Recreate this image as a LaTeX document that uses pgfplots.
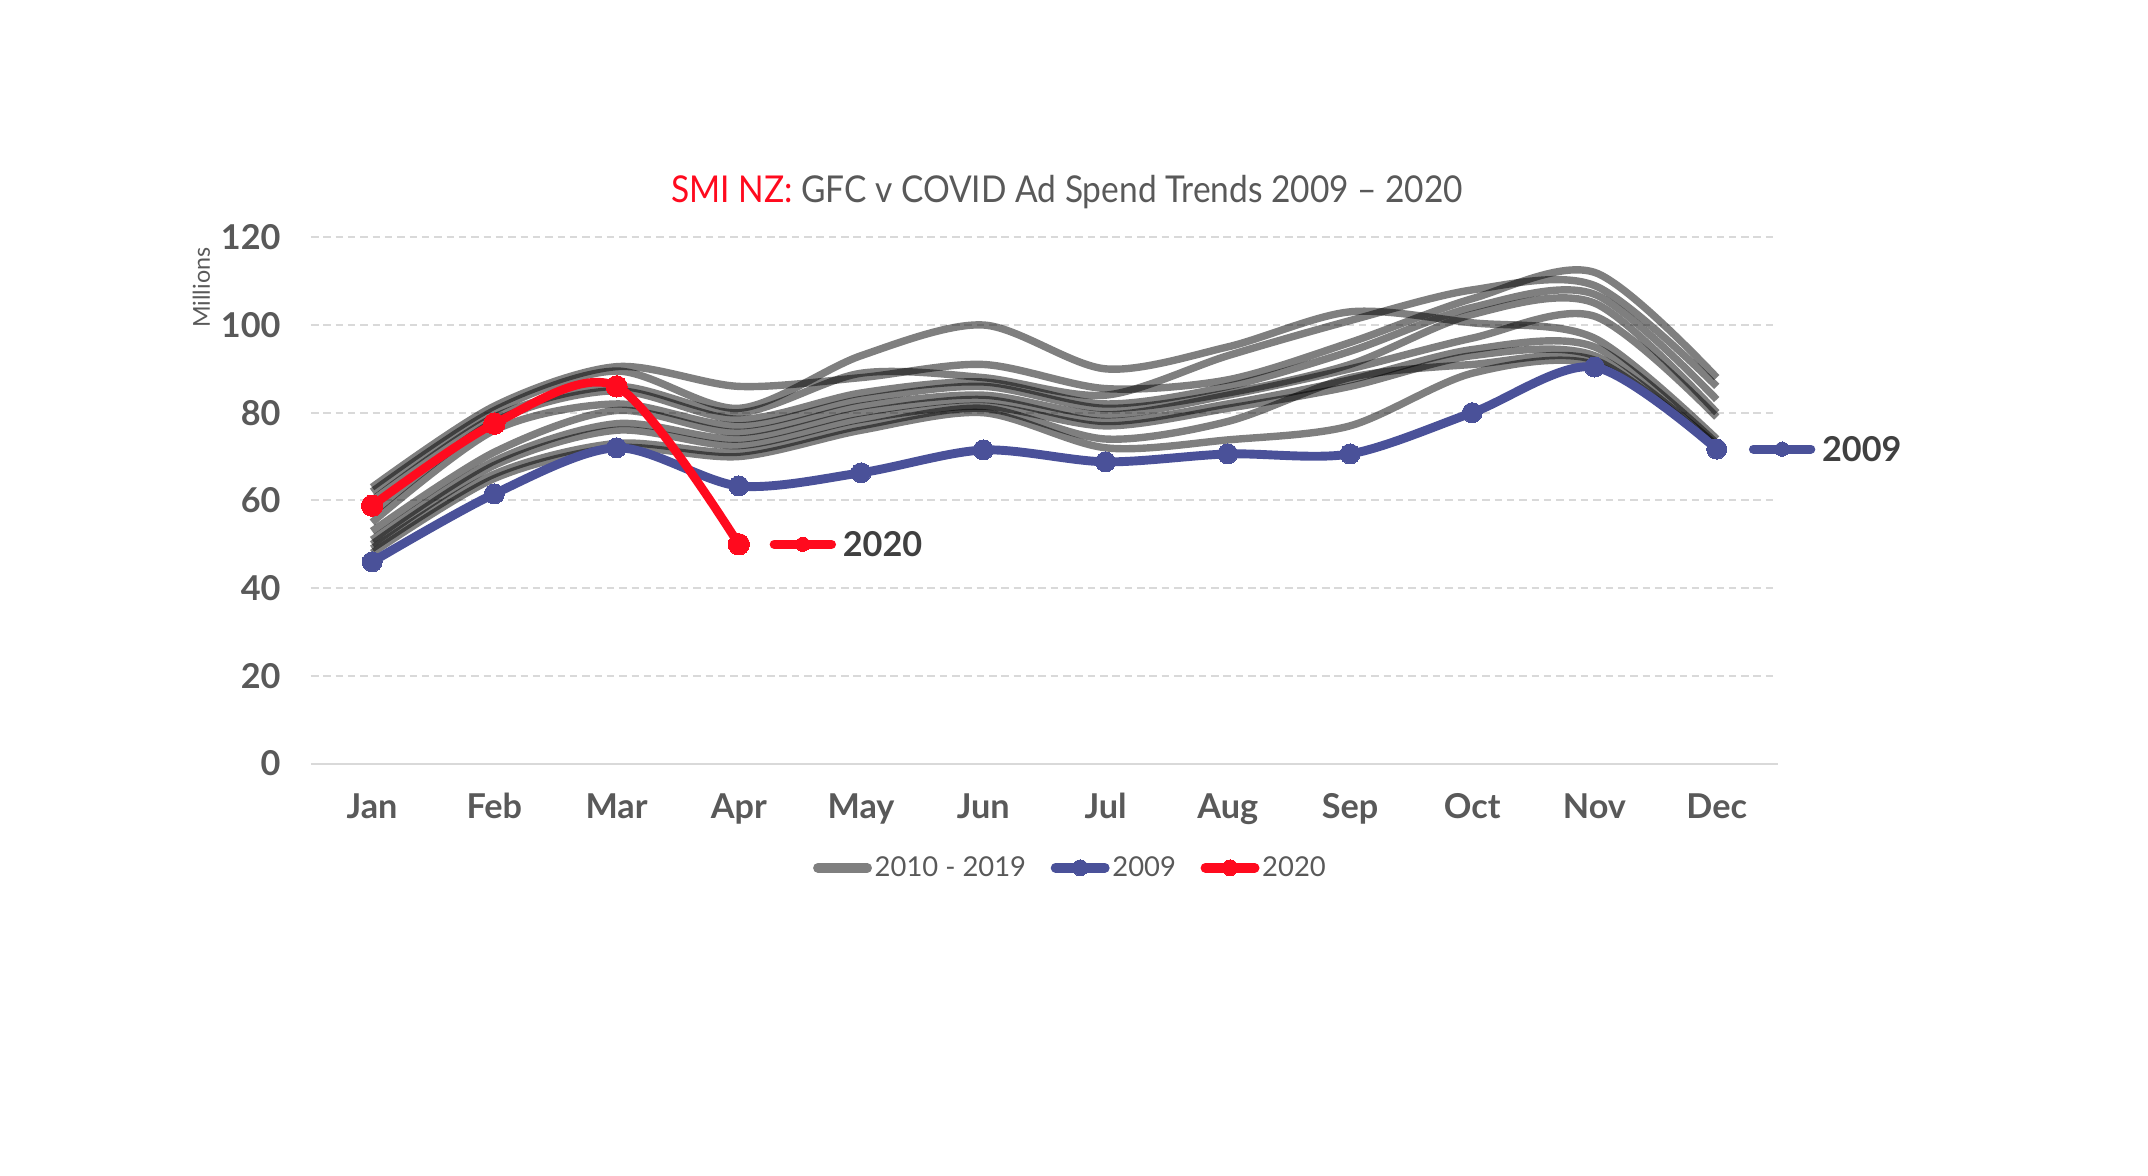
\documentclass[border=0pt]{standalone}
\usepackage{pgfplots}
\pgfplotsset{compat=1.18}
\usepackage{graphicx}
\usepackage{fontspec}
\setmainfont{Lato}
\definecolor{txt}{HTML}{595959}
\definecolor{dark}{HTML}{404040}
\definecolor{blu}{HTML}{4A5199}
\definecolor{rd}{HTML}{FF0A1E}
\definecolor{grd}{HTML}{D9D9D9}
\pgfplotsset{
  gline/.style={black, opacity=0.5, line width=5.4pt, smooth, line cap=butt, no markers, forget plot},
}
\begin{document}
\begin{tikzpicture}[x=1pt,y=1pt]
\path[use as bounding box] (0,0) rectangle (1568,-858.4);
\begin{axis}[
  at={(227pt,-557.4pt)}, anchor=south west, scale only axis,
  width=1070.8pt, height=384.2pt,
  xmin=-0.5, xmax=11.5, ymin=0, ymax=120,
  clip=false,
  xtick={0,...,11},
  xticklabels={Jan,Feb,Mar,Apr,May,Jun,Jul,Aug,Sep,Oct,Nov,Dec},
  ytick={0,20,...,120},
  axis x line*=bottom, axis y line*=left,
  x axis line style={-, grd, line width=1.4pt},
  y axis line style={draw=none},
  major tick length=0pt, tick style={draw=none},
  ymajorgrids,
  major grid style={grd, line width=1.4pt, dash pattern=on 5.5pt off 3.5pt},
  /pgf/number format/assume math mode=true,
  ticklabel style={font=\fontsize{25}{25}\selectfont\bfseries, text=txt},
  yticklabel style={anchor=east, inner sep=0pt, xshift=-22pt},
  xticklabel style={anchor=base, inner sep=0pt, yshift=-40pt},
  legend style={at={(0.518,-0.198)}, anchor=center, draw=none, fill=none,
    legend columns=3, font=\fontsize{20}{20}\selectfont, text=txt,
    /tikz/every even column/.append style={column sep=16pt},
    nodes={inner xsep=2pt, inner ysep=0pt}},
  legend image code/.code={\draw[#1, mark repeat=2, mark phase=2] plot coordinates {(0pt,0pt) (18pt,0pt) (36pt,0pt)};},
]
% 2010 - 2019
\addplot[gline] coordinates {(0,62)(1,80.5)(2,89.5)(3,81)(4,93)(5,100)(6,90)(7,95)(8,103)(9,100.5)(10,97)(11,74)};
\addplot[gline] coordinates {(0,63)(1,81.5)(2,90.5)(3,86)(4,88)(5,91)(6,85.5)(7,87.5)(8,96)(9,106)(10,112)(11,88)};
\addplot[gline] coordinates {(0,60)(1,79)(2,86)(3,80)(4,89)(5,88)(6,84)(7,93)(8,101)(9,108)(10,109)(11,86)};
\addplot[gline] coordinates {(0,57)(1,78)(2,85)(3,78.5)(4,84.5)(5,87)(6,82)(7,86)(8,94)(9,104)(10,107)(11,83)};
\addplot[gline] coordinates {(0,55)(1,76)(2,82)(3,77)(4,83)(5,86)(6,81)(7,84.5)(8,91)(9,102.4)(10,105)(11,80)};
\addplot[gline] coordinates {(0,53)(1,71)(2,80.5)(3,75.5)(4,81.5)(5,84)(6,79.5)(7,84)(8,90)(9,97)(10,102)(11,79)};
\addplot[gline] coordinates {(0,51)(1,69)(2,77.5)(3,74)(4,80)(5,83)(6,78)(7,82)(8,87.5)(9,94.4)(10,95)(11,73)};
\addplot[gline] coordinates {(0,50)(1,68)(2,76)(3,72.5)(4,78.5)(5,81.5)(6,77)(7,81)(8,86)(9,93)(10,93)(11,72.5)};
\addplot[gline] coordinates {(0,49)(1,66)(2,73)(3,71)(4,77)(5,81)(6,74)(7,78)(8,88)(9,91)(10,92)(11,72)};
\addplot[gline] coordinates {(0,48)(1,65)(2,72)(3,70)(4,76)(5,80)(6,72)(7,73.8)(8,77)(9,89)(10,91)(11,72)};
% 2009
\addplot[blu, line width=6.5pt, smooth, line cap=round, mark=*, mark size=7.3pt,
  mark options={solid, fill=blu, line width=0pt}, forget plot]
  coordinates {(0,46)(1,61.5)(2,72)(3,63.3)(4,66.3)(5,71.5)(6,68.8)(7,70.6)(8,70.6)(9,80)(10,90.4)(11,71.7)};
% 2020
\addplot[rd, line width=6.3pt, smooth, line cap=round, mark=*, mark size=7.8pt,
  mark options={solid, fill=rd, line width=0pt}, forget plot]
  coordinates {(0,58.8)(1,77.5)(2,86)(3,50)};
% label keys
\addplot[rd, line width=6.5pt, line cap=round, mark=*, mark size=5.2pt, mark indices={2},
  mark options={solid, fill=rd, line width=0pt}, forget plot]
  coordinates {(3.289,50)(3.524,50)(3.759,50)};
\addplot[blu, line width=6.5pt, line cap=round, mark=*, mark size=5.2pt, mark indices={2},
  mark options={solid, fill=blu, line width=0pt}, forget plot]
  coordinates {(11.300,71.7)(11.535,71.7)(11.770,71.7)};
\node[anchor=west, inner sep=0pt, font=\fontsize{25}{25}\selectfont\bfseries, text=dark] at (axis cs:3.849,50) {2020};
\node[anchor=west, inner sep=0pt, font=\fontsize{25}{25}\selectfont\bfseries, text=dark] at (axis cs:11.860,71.7) {2009};
% legend
\addlegendimage{black, opacity=0.5, line width=7pt, line cap=round}
\addlegendentry{2010 - 2019}
\addlegendimage{blu, line width=7pt, line cap=round, mark=*, mark size=5.8pt, mark options={solid, fill=blu, line width=0pt}}
\addlegendentry{2009}
\addlegendimage{rd, line width=7pt, line cap=round, mark=*, mark size=5.8pt, mark options={solid, fill=rd, line width=0pt}}
\addlegendentry{2020}
\end{axis}
\node[anchor=base, inner sep=0pt] at (779,-147.5) {\fontsize{27}{27}\selectfont\resizebox{578pt}{\height}{\textcolor{rd}{SMI NZ:} \textcolor{txt}{GFC v COVID Ad Spend Trends 2009 – 2020}}};
\node[rotate=90, anchor=center, inner sep=0pt, text=txt] at (147,-210) {\fontsize{17}{17}\selectfont Millions};
\end{tikzpicture}
\end{document}
